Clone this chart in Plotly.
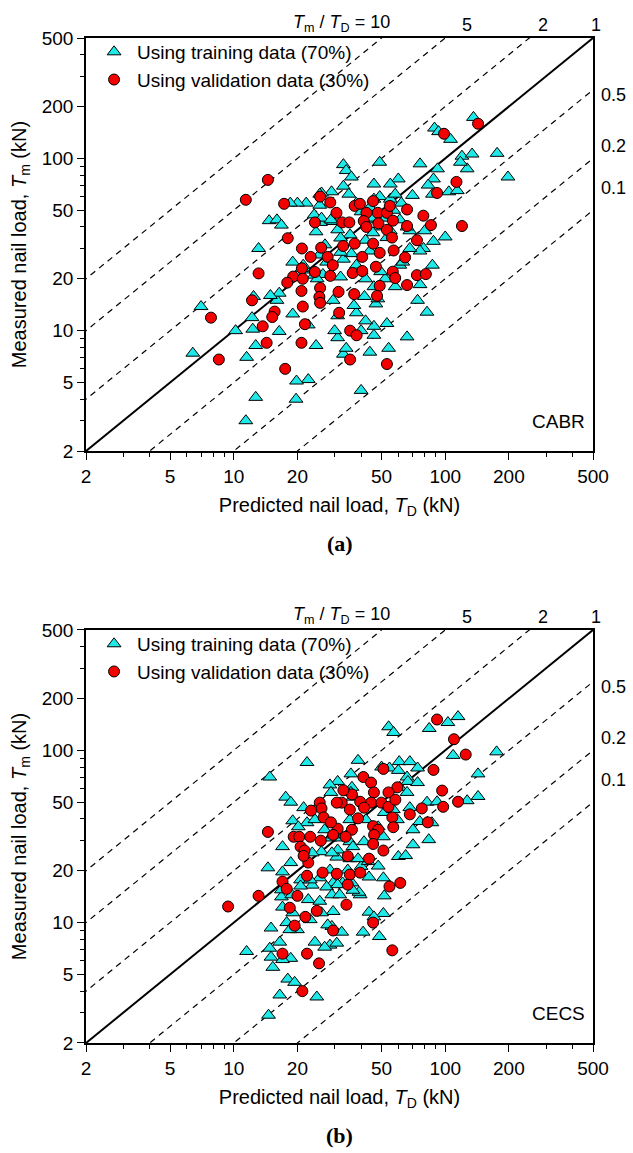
import math
import plotly.graph_objects as go

# ---------------- data (kN) ----------------
# Panel (a) CABR
a_train_td = [136, 89, 93, 106, 120, 134, 176, 127, 198, 118, 76, 33, 34, 36, 49, 60, 55, 46, 33, 92, 88, 83, 87, 104, 114, 70, 35, 29, 22, 49, 55, 46,
              100, 88, 79, 76, 87, 76, 74, 82, 66, 54, 53, 46, 46, 44, 33, 34, 31, 30, 24.5, 22.5, 40, 29.5, 32, 33, 36, 38, 42, 40, 46, 47, 48, 52, 61, 68, 80, 68, 61, 55, 49, 45.5, 43.5, 40, 35.5, 31, 29.5, 24.5, 24, 25.7, 21.8, 24, 21.3, 22.5,
              26, 20, 18.5, 25.5, 26, 28.8, 14.7, 16, 16.8, 32, 13.1, 19, 21, 26.4, 32, 42, 44, 53, 66, 63, 49.5, 58, 41.5, 37, 16, 12.4,
              25.5, 24.8, 27.5, 27, 25.4, 16.4, 14.9, 12.2, 12.3, 10.2, 7, 6.4, 12.7, 11.5, 16.4, 19, 19.8, 12.7, 19.7, 11.4, 31,
              38, 44, 52, 57, 62, 45, 38, 42, 58]
a_train_tm = [173, 150, 143, 129, 103, 106, 107, 87, 78, 95, 93, 92, 85, 78, 95, 76, 71, 71, 69, 87, 76, 70, 62, 64, 65, 61, 62, 64, 55, 60, 58, 58,
              35, 33, 30, 29, 24, 18.5, 15, 12.8, 9.2, 7.9, 11, 10.6, 9.4, 7.5, 7.3, 7.9, 9.1, 10, 8.2, 5.2, 4.5, 15, 20.5, 26, 28, 12.7, 11.4, 10, 18, 14.3, 15.3, 20, 24, 30, 38, 38, 44, 38, 40, 37, 44, 49, 36, 38.5, 43, 37.5, 47, 42.5, 22.5, 21, 24, 10.8,
              63, 55, 55, 53.5, 45, 44, 43.5, 44, 41, 34.5, 30, 25, 23, 21.2, 28.5, 33.5, 29, 34.7, 40, 25, 22, 18, 15.8, 14, 15, 15.8,
              62, 20, 25, 31.5, 27.5, 16.5, 16, 11.9, 10.2, 10, 13.8, 7.4, 8.2, 7, 9.9, 12.5, 5.1, 4.1, 4, 3, 12.2,
              55, 52, 45, 50, 55, 45, 24, 20, 62]
a_val_td = [14.5, 11.4, 17.3, 25.6, 28.6, 30.6, 37.3, 39.5, 42.4, 45.6, 48, 53, 56.6, 66, 24.2, 32.6, 35.2, 41.2, 42.4, 53, 56, 18, 21, 25.9, 32.9, 37.3, 45.6, 57, 64.6, 23.1, 27.8, 40.5,
            19.1, 21, 21.2, 17.9, 13.1, 24.2, 28.6, 36.5, 40.5, 47, 56.5, 58, 66, 49, 47.6, 37.1, 31.3, 25.6, 25.4, 25.6, 20.9, 12.2, 21.2, 15.6, 15.2, 13.7, 7.8, 21.7, 20.9, 14.3, 8.5, 17.5,
            31.5, 35.5, 38.1, 35.5, 53, 29.4, 49, 73.5, 81, 73.5, 66, 78.8, 85.6, 120, 91.5, 113, 48.3, 54.7, 143, 98.7]
a_val_tm = [75, 57.5, 54.5, 60, 55.5, 48.3, 53, 54.5, 48.3, 56.5, 48.3, 48.3, 43.5, 50.5, 42.5, 42.5, 42.5, 43.3, 40, 38.5, 34.7, 34.4, 30, 30.3, 31, 32, 32, 29.2, 26.6, 26.8, 26.8, 26.8,
            20.6, 23, 20, 19, 21.5, 21.9, 20.8, 21.6, 22.2, 23.5, 22, 20.2, 18.4, 18.2, 15.9, 16.3, 16.8, 17.7, 15.7, 14.5, 17, 15, 13.8, 12.9, 12, 10.6, 11.9, 10.9, 8.5, 8.5, 6.8, 6,
            12.7, 10, 9.4, 6.8, 6.4, 24, 28.3, 21, 21.3, 33.5, 40.5, 46.5, 41, 40.5, 63, 73, 42, 53, 159, 139]

# Panel (b) CECS
b_train_td = [115, 103, 84, 54, 57, 175, 109, 143, 143, 127, 22.2, 38.7, 35.8, 31, 28.5, 28.8, 36.2, 54.5, 60.6, 68, 74, 66, 66.6, 74, 61, 66, 82, 91.5, 68, 14.8,
              70.4, 75.8, 86.5, 83.6, 70.4, 60, 65, 51, 51.5, 43.6, 39.6, 43.6, 51, 46, 48.8, 40.9, 32.4, 29.1, 28.5, 26.9, 24.2, 24.7, 22.2, 24.2, 26, 28.5, 32.4, 35.4, 30.7, 35.4, 40, 29.5, 32.7, 27.5, 39.1, 22.5, 25.5, 29.1, 29.5, 26, 23,
              17.6, 18.6, 21.4, 19, 20.2, 26.9, 29.5, 17, 14.5, 17, 18.6, 20.7, 23.5, 25.5, 28.5, 31, 16.8, 17, 19, 17.8, 20, 18.4, 27.8, 15, 16.5, 14.8, 15, 11.5, 15.3, 18.6, 17, 18, 19.4, 16.5, 14.6, 30.7,
              35.8, 36.6, 60, 50, 42.2, 48.2, 51.5, 56.8, 59.4, 51, 41.3, 36.6, 35.4, 29.1, 23.5, 34.6, 38.7, 43.2, 48.2, 36.2, 31, 31.7, 36.6, 23, 20.7, 16.8, 18.8]
b_train_tm = [157, 145, 134, 137, 127, 98, 93.5, 73, 54, 51, 85, 87.5, 73, 66, 63, 57, 61, 79, 86, 86, 79, 70, 66, 65, 61, 57, 50, 50.3, 46.5, 70,
              34.6, 38.6, 38, 30.3, 28.3, 24.2, 24.5, 18.2, 14.3, 18.4, 14.5, 11.5, 11.3, 10.8, 8.3, 8.8, 8.8, 9.5, 7.4, 7.2, 7.7, 3.7, 38, 39.6, 25.8, 31, 31, 29.5, 24, 23.5, 21.2, 17, 17, 16.1, 15, 13.6, 13.3, 14.5, 11.6, 11.4, 10.4,
              53.5, 50, 46.5, 39, 36, 34.6, 32.3, 27.6, 20.8, 19.7, 22.3, 17.7, 16.5, 18.2, 20.2, 26.4, 14.1, 12.3, 11.4, 10, 9.1, 9.1, 9.7, 9.3, 7.7, 7.1, 6.3, 6.8, 5.5, 6.2, 6.1, 4.7, 4.5, 3.8, 2.9, 7.6,
              57, 53.5, 76.5, 80, 39.6, 36, 43.6, 45.3, 39.6, 31.5, 29.5, 27.6, 39.6, 25.4, 25.4, 20.2, 23.5, 22.6, 21.3, 17, 16.6, 14.5, 15.4, 17.7, 16.3, 15.5, 14.5]
b_val_td = [91.5, 110, 125, 88, 51, 41, 44.6, 96.7, 115, 97.8, 59.4, 53.9, 46, 36.2, 32.4, 25.5, 26, 23.2, 44.6, 49.9, 77.5, 33, 30.7, 39.6, 53.9, 58.1, 35.4, 41.3, 38.7, 45.6, 48.2, 56.2, 56.8,
            26.6, 31, 36.2, 29.5, 33.8, 14.5, 19.2, 20.4, 23, 25.8, 20.7, 21.6, 22.5, 26.3, 30.7, 35.4, 39.6, 34.6, 43.6, 46.1, 51, 54.5, 61.3, 34.6, 17, 17.8, 13.1, 20,
            82.7, 45.6, 68, 34.1, 24.7, 21.8, 45.6, 29.5, 22.2, 25.3, 56.2, 21.1, 9.4, 18.4, 19.4, 17, 22.2, 21.4, 28.8]
b_val_tm = [151, 116, 94.5, 77, 78, 70, 65, 58.4, 50.3, 47, 61, 57, 57, 55.5, 49.7, 49.7, 46, 44.7, 49.7, 49.7, 46, 58.6, 49.7, 50.3, 47, 51.7, 45.3, 46.5, 40.3, 36.3, 34.6, 40.8, 35.8,
            40.8, 35.1, 34.6, 32.3, 31.5, 33.6, 31.5, 31.5, 31.5, 29.9, 27.6, 26.2, 22.3, 19.5, 19.2, 19, 19.5, 24.3, 23.5, 32.3, 26.2, 16.2, 17, 16.6, 17.3, 15.7, 14.3, 14.3,
            38.2, 28.6, 42.5, 12.7, 11.7, 10.8, 10, 9, 6.6, 5.8, 6.9, 4, 12.4, 12.2, 9.6, 6.6, 18.7, 24.4, 38.2]

tick_vals = [2, 5, 10, 20, 50, 100, 200, 500]
minor_vals = [3, 4, 6, 7, 8, 9, 30, 40, 60, 70, 80, 90, 300, 400]
dashed_ratios = [10, 5, 2, 0.5, 0.2, 0.1]
top_labels = ["<i>T</i><sub>m</sub> / <i>T</i><sub>D</sub> = 10", "5", "2", "1"]
top_label_x = [56, 127, 290, 517]
right_labels = ["0.5", "0.2", "0.1"]
right_label_y = [232, 118.6, 67.6]
panel_names = ["CABR", "CECS"]
panel_tags = ["(a)", "(b)"]

FONT = "Liberation Sans, Arial, sans-serif"
CYAN = "#1FE8E8"
RED = "#F50000"
XMIN, XMAX = 2, 500

fig = go.Figure()

domains = [[0.589, 1.0], [0.0, 0.411]]
panels = [
    ("x", "y", "legend", a_train_td, a_train_tm, a_val_td, a_val_tm),
    ("x2", "y2", "legend2", b_train_td, b_train_tm, b_val_td, b_val_tm),
]

for xa, ya, lg, ttd, ttm, vtd, vtm in panels:
    for r in dashed_ratios:
        fig.add_trace(go.Scatter(x=[1, 1000], y=[r * 1, r * 1000], mode="lines",
                                 line=dict(color="black", width=1.2, dash="6px,5px"),
                                 xaxis=xa, yaxis=ya, showlegend=False, hoverinfo="skip"))
    fig.add_trace(go.Scatter(x=[1, 1000], y=[1, 1000], mode="lines",
                             line=dict(color="black", width=2),
                             xaxis=xa, yaxis=ya, showlegend=False, hoverinfo="skip"))
    fig.add_trace(go.Scatter(x=ttd, y=ttm, mode="markers", name="Using training data (70%)",
                             marker=dict(symbol="triangle-up", size=12, color=CYAN,
                                         line=dict(color="black", width=1)),
                             xaxis=xa, yaxis=ya, legend=lg))
    fig.add_trace(go.Scatter(x=vtd, y=vtm, mode="markers", name="Using validation data (30%)",
                             marker=dict(symbol="circle", size=11, color=RED,
                                         line=dict(color="black", width=1)),
                             xaxis=xa, yaxis=ya, legend=lg))


def axis_common():
    return dict(type="log", range=[math.log10(XMIN), math.log10(XMAX)], automargin=False,
                tickmode="array", tickvals=tick_vals, ticktext=[str(v) for v in tick_vals],
                ticks="outside", ticklen=7, tickwidth=1.3, tickcolor="black",
                minor=dict(tickmode="array", tickvals=minor_vals, ticks="outside", ticklen=4,
                           tickwidth=1, tickcolor="black", showgrid=False),
                showline=True, linecolor="black", linewidth=1.5, mirror=True,
                showgrid=False, zeroline=False,
                tickfont=dict(family=FONT, size=19, color="black"))


def paper_x(v):
    return (math.log10(v) - math.log10(XMIN)) / (math.log10(XMAX) - math.log10(XMIN))


xt = "Predicted nail load, <i>T</i><sub>D</sub> (kN)"
yt = "Measured nail load, <i>T</i><sub>m</sub> (kN)"
title_font = dict(family=FONT, size=20, color="black")

layout = dict(
    width=633, height=1153,
    margin=dict(l=86, r=40, t=38, b=110),
    paper_bgcolor="white", plot_bgcolor="white",
    font=dict(family=FONT, color="black"),
    xaxis=dict(axis_common(), anchor="y", domain=[0, 1],
               title=dict(text=xt, font=title_font, standoff=12)),
    yaxis=dict(axis_common(), anchor="x", domain=domains[0],
               title=dict(text=yt, font=title_font, standoff=10)),
    xaxis2=dict(axis_common(), anchor="y2", domain=[0, 1],
                title=dict(text=xt, font=title_font, standoff=12)),
    yaxis2=dict(axis_common(), anchor="x2", domain=domains[1],
                title=dict(text=yt, font=title_font, standoff=10)),
    legend=dict(x=0.01, y=1.005, xanchor="left", yanchor="top", bgcolor="rgba(0,0,0,0)",
                itemwidth=36,
                font=dict(family=FONT, size=19, color="black"), tracegroupgap=0),
    legend2=dict(x=0.01, y=0.416, xanchor="left", yanchor="top", bgcolor="rgba(0,0,0,0)",
                 itemwidth=36,
                 font=dict(family=FONT, size=19, color="black"), tracegroupgap=0),
    showlegend=True,
)
fig.update_layout(**layout)

annotations = []
for i, yr in enumerate(["y", "y2"]):
    top = domains[i][1]
    for txt, xv in zip(top_labels, top_label_x):
        annotations.append(dict(text=txt, xref="paper", x=paper_x(xv), yref="paper", y=top,
                                xanchor="right" if "=" in txt else "center", yanchor="bottom",
                                yshift=1, showarrow=False,
                                font=dict(family=FONT, size=18, color="black")))
    for txt, yv in zip(right_labels, right_label_y):
        annotations.append(dict(text=txt, xref="paper", x=1.0, xshift=6, xanchor="left",
                                yref=yr, y=math.log10(yv), yanchor="middle", showarrow=False,
                                font=dict(family=FONT, size=18, color="black")))
    annotations.append(dict(text=panel_names[i], xref="paper", x=1.0, xshift=-6, xanchor="right",
                            yref=yr, y=math.log10(2.95), yanchor="middle", showarrow=False,
                            font=dict(family=FONT, size=19, color="black")))
    annotations.append(dict(text="<b>%s</b>" % panel_tags[i], xref="paper", x=0.5, xanchor="center",
                            yref="paper", y=domains[i][0], yshift=-92, yanchor="middle", showarrow=False,
                            font=dict(family="Liberation Serif, Times New Roman, serif", size=22, color="black")))
fig.update_layout(annotations=annotations)

fig.write_html("out.html", config={"displayModeBar": False},
               post_script="document.body.style.margin='0';document.body.style.padding='0';"
                           "document.documentElement.style.margin='0';")
